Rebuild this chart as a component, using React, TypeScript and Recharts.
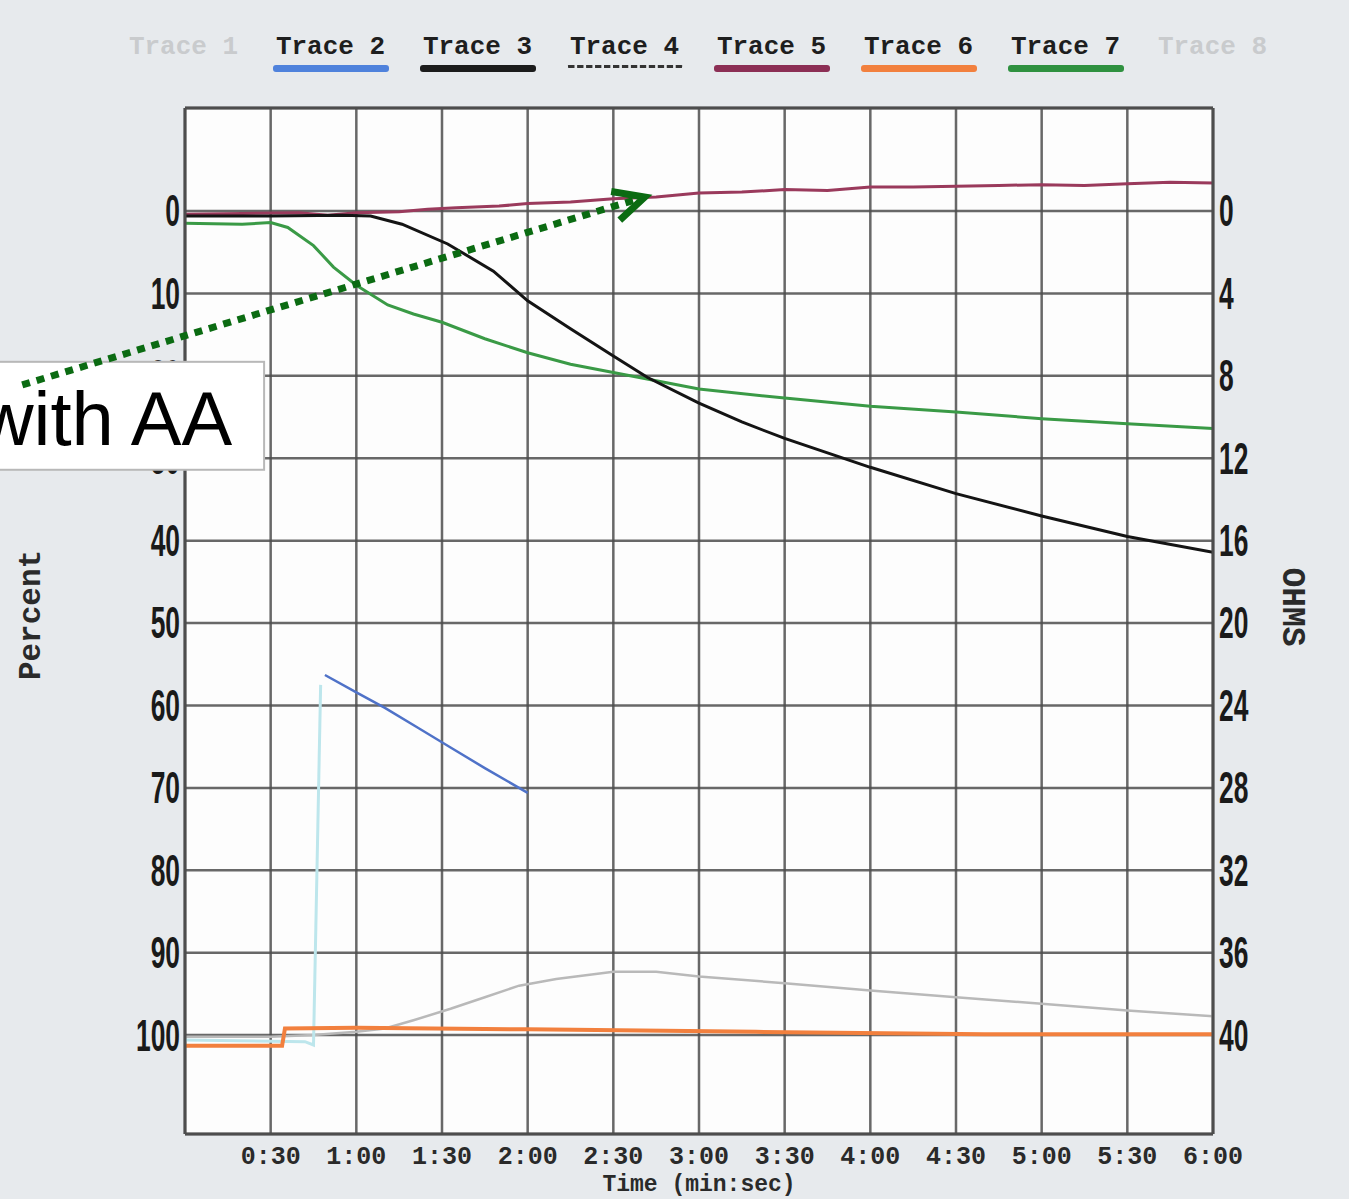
import { CartesianGrid, Line, LineChart, ReferenceArea, ReferenceLine, XAxis, YAxis } from "recharts";

// time axis (seconds) and its labels
const timeTicks = [30, 60, 90, 120, 150, 180, 210, 240, 270, 300, 330, 360];
const timeLabels = ["0:30", "1:00", "1:30", "2:00", "2:30", "3:00", "3:30", "4:00", "4:30", "5:00", "5:30", "6:00"];
const percentTicks = [0, 10, 20, 30, 40, 50, 60, 70, 80, 90, 100];
const ohmTicks = [0, 4, 8, 12, 16, 20, 24, 28, 32, 36, 40];

// Trace 1 (faded grey)
const trace1Time = [0, 30, 45, 60, 70, 80, 93, 105, 117, 130, 150, 165, 180, 210, 240, 270, 300, 330, 360];
const trace1Pct = [100.2, 100.2, 100, 99.6, 99.2, 98.2, 96.8, 95.4, 94.0, 93.2, 92.3, 92.3, 92.9, 93.7, 94.6, 95.4, 96.2, 97.0, 97.7];

// Trace 2 (blue)
const trace2Time = [49, 60, 70, 82, 93, 105, 120];
const trace2Pct = [56.3, 58.4, 60.3, 62.8, 65.1, 67.6, 70.6];

// Trace 3 (black)
const trace3Time = [0, 30, 55, 65, 76, 92, 108, 120, 135, 150, 162, 180, 195, 210, 240, 270, 300, 330, 360];
const trace3Pct = [0.6, 0.6, 0.5, 0.6, 1.6, 4.0, 7.3, 10.9, 14.3, 17.6, 20.2, 23.3, 25.6, 27.6, 31.1, 34.3, 37.0, 39.5, 41.4];

// Trace 5 (maroon) – read against the OHMS axis
const trace5Time = [0, 20, 40, 50, 60, 75, 85, 95, 110, 120, 135, 150, 165, 180, 195, 210, 225, 240, 255, 270, 285, 300, 315, 330, 345, 360];
const trace5Ohm = [0.16, 0.12, 0.08, 0.2, 0.08, 0.04, -0.08, -0.16, -0.24, -0.36, -0.44, -0.6, -0.68, -0.88, -0.92, -1.04, -1.0, -1.16, -1.16, -1.2, -1.24, -1.28, -1.24, -1.32, -1.4, -1.36];

// Trace 6 (orange)
const trace6Time = [0, 34, 35, 60, 120, 200, 280, 360];
const trace6Pct = [101.3, 101.3, 99.2, 99.1, 99.3, 99.6, 99.9, 99.9];

// Trace 7 (green)
const trace7Time = [0, 20, 30, 36, 45, 52, 60, 71, 80, 90, 105, 120, 135, 150, 165, 180, 210, 240, 270, 300, 330, 360];
const trace7Pct = [1.5, 1.6, 1.4, 2.0, 4.2, 6.8, 9.0, 11.4, 12.5, 13.5, 15.5, 17.2, 18.6, 19.6, 20.6, 21.6, 22.7, 23.7, 24.4, 25.2, 25.8, 26.4];

// Trace 8 (faded cyan)
const trace8Time = [0, 42, 45, 47.5];
const trace8Pct = [100.6, 100.8, 101.2, 57.5];

const legendNames = ["Trace 1", "Trace 2", "Trace 3", "Trace 4", "Trace 5", "Trace 6", "Trace 7", "Trace 8"];
const legendColors = ["#d4d6d8", "#4f82dc", "#1c1c1c", "#333333", "#8c2f55", "#f2803e", "#2f9140", "#d4d6d8"];
const legendFaded = [true, false, false, false, false, false, false, true];

// annotation, in chart units (seconds, percent)
const noteText = "with AA";
const noteBox = { t1: -70, t2: 27.7, p1: 18.3, p2: 31.4 };
const arrowFrom = { t: -57, p: 21.1 };
const arrowTo = { t: 161, p: -1.7 };

const zip = (ts: number[], vs: number[]) => ts.map((t, i) => ({ t, v: vs[i] }));

const monoFont = '"Liberation Mono", "DejaVu Sans Mono", monospace';

function PctTick({ x, y, payload }: any) {
  return (
    <text
      transform={`translate(${x},${y}) scale(0.6,1)`}
      textAnchor="end"
      dy="0.35em"
      fontFamily="Liberation Sans"
      fontWeight="bold"
      fontSize={44}
      fill="#1a1a1a"
    >
      {payload.value}
    </text>
  );
}

function OhmTick({ x, y, payload }: any) {
  return (
    <text
      transform={`translate(${x},${y}) scale(0.6,1)`}
      textAnchor="start"
      dy="0.35em"
      fontFamily="Liberation Sans"
      fontWeight="bold"
      fontSize={44}
      fill="#1a1a1a"
    >
      {payload.value}
    </text>
  );
}

function NoteShape(props: any) {
  const { x, y, width, height } = props;
  return (
    <g>
      <rect x={x} y={y} width={width} height={height} fill="#ffffff" stroke="#b8b8b8" strokeWidth={2} />
      <text
        x={x + width - 32}
        y={y + 83}
        textAnchor="end"
        fontFamily="Liberation Sans, Arial, sans-serif"
        fontSize={76}
        fill="#000"
      >
        {noteText}
      </text>
    </g>
  );
}

function ArrowShape(props: any) {
  const { x1, y1, x2, y2 } = props;
  const ang = Math.atan2(y2 - y1, x2 - x1);
  const len = 34;
  const spread = (26 * Math.PI) / 180;
  const a1 = ang + Math.PI - spread;
  const a2 = ang + Math.PI + spread;
  return (
    <g>
      <line x1={x1} y1={y1} x2={x2 - 6 * Math.cos(ang)} y2={y2 - 6 * Math.sin(ang)} stroke="#0b6b12" strokeWidth={7} strokeDasharray="8 7" />
      <polyline
        points={`${x2 + len * Math.cos(a1)},${y2 + len * Math.sin(a1)} ${x2},${y2} ${x2 + len * Math.cos(a2)},${y2 + len * Math.sin(a2)}`}
        fill="none"
        stroke="#0b6b12"
        strokeWidth={7}
        strokeLinejoin="miter"
      />
    </g>
  );
}

function Legend() {
  return (
    <>
      {legendNames.map((name, i) => (
        <div
          key={name}
          style={{ position: "absolute", left: 110 + i * 147, top: 32, width: 147, textAlign: "center" }}
        >
          <div
            style={{
              fontFamily: monoFont,
              fontWeight: "bold",
              fontSize: 26,
              lineHeight: "30px",
              color: legendFaded[i] ? "#c9cbcd" : "#1e1e1e",
            }}
          >
            {name}
          </div>
          {!legendFaded[i] && (
            <div
              style={{
                margin: "3px auto 0",
                width: 116,
                height: name === "Trace 4" ? 0 : 7,
                borderRadius: 3,
                background: name === "Trace 4" ? "transparent" : legendColors[i],
                borderTop: name === "Trace 4" ? "3px dashed #333" : "none",
              }}
            />
          )}
        </div>
      ))}
    </>
  );
}

export default function App() {
  const gridColor = "#4d4d4d";
  return (
    <div style={{ position: "absolute", left: 0, top: 0, width: 1349, height: 1199, background: "#e7eaed", overflow: "hidden" }}>
      <Legend />
      <LineChart width={1349} height={1199} margin={{ top: 108, right: 0, bottom: 0, left: 0 }}>
        <CartesianGrid
          yAxisId="pct"
          fill="#fdfdfd"
          stroke={gridColor}
          strokeWidth={2.5}
          strokeOpacity={0.85}
        />
        <XAxis
          dataKey="t"
          type="number"
          domain={[0, 360]}
          ticks={timeTicks}
          allowDataOverflow
          height={65}
          tickFormatter={(v) => timeLabels[timeTicks.indexOf(v)]}
          tick={{ fontFamily: monoFont, fontWeight: "bold", fontSize: 25, fill: "#2a2a2a" }}
          tickLine={false}
          tickSize={0}
          tickMargin={12}
          axisLine={{ stroke: gridColor, strokeWidth: 3 }}
          label={{
            value: "Time (min:sec)",
            position: "insideBottom",
            offset: 8,
            style: { fontFamily: monoFont, fontWeight: "bold", fontSize: 23, fill: "#2a2a2a" },
          }}
        />
        <YAxis
          yAxisId="pct"
          type="number"
          domain={[-12.5, 112]}
          reversed
          ticks={percentTicks}
          allowDataOverflow
          width={185}
          tick={<PctTick />}
          tickLine={false}
          tickSize={0}
          tickMargin={5}
          axisLine={{ stroke: gridColor, strokeWidth: 3 }}
          label={{
            content: ({ viewBox }: any) => (
              <text
                transform={`translate(${viewBox.x + 40},${viewBox.y + viewBox.height / 2 - 6}) rotate(-90)`}
                textAnchor="middle"
                fontFamily={monoFont}
                fontWeight="bold"
                fontSize={31}
                fill="#2a2a2a"
              >
                Percent
              </text>
            ),
          }}
        />
        <YAxis
          yAxisId="ohm"
          orientation="right"
          type="number"
          domain={[-5, 44.8]}
          reversed
          ticks={ohmTicks}
          allowDataOverflow
          width={136}
          tick={<OhmTick />}
          tickLine={false}
          tickSize={0}
          tickMargin={6}
          axisLine={{ stroke: gridColor, strokeWidth: 3 }}
          label={{
            content: ({ viewBox }: any) => (
              <text
                transform={`translate(${viewBox.x + 70},${viewBox.y + viewBox.height / 2 - 14}) rotate(90)`}
                textAnchor="middle"
                fontFamily={monoFont}
                fontWeight="bold"
                fontSize={33}
                fill="#2a2a2a"
              >
                OHMS
              </text>
            ),
          }}
        />
        <ReferenceLine yAxisId="pct" y={-12.5} stroke={gridColor} strokeWidth={3} />

        <Line yAxisId="pct" data={zip(trace1Time, trace1Pct)} dataKey="v" stroke="#b9b9b9" strokeWidth={2.5} dot={false} isAnimationActive={false} />
        <Line yAxisId="pct" data={zip(trace8Time, trace8Pct)} dataKey="v" stroke="#bde6ec" strokeWidth={3} dot={false} isAnimationActive={false} />
        <Line yAxisId="pct" data={zip(trace6Time, trace6Pct)} dataKey="v" stroke="#f2803e" strokeWidth={4} dot={false} isAnimationActive={false} />
        <Line yAxisId="pct" data={zip(trace2Time, trace2Pct)} dataKey="v" stroke="#4f72c8" strokeWidth={2.5} dot={false} isAnimationActive={false} />
        <Line yAxisId="pct" data={zip(trace7Time, trace7Pct)} dataKey="v" stroke="#3a9a46" strokeWidth={3} dot={false} isAnimationActive={false} />
        <Line yAxisId="ohm" data={zip(trace5Time, trace5Ohm)} dataKey="v" stroke="#9a3a5c" strokeWidth={3} dot={false} isAnimationActive={false} />
        <Line yAxisId="pct" data={zip(trace3Time, trace3Pct)} dataKey="v" stroke="#141414" strokeWidth={3} dot={false} isAnimationActive={false} />

        <ReferenceArea
          yAxisId="pct"
          x1={noteBox.t1}
          x2={noteBox.t2}
          y1={noteBox.p1}
          y2={noteBox.p2}
          ifOverflow="visible"
          shape={<NoteShape />}
          zIndex={2500}
        />
        <ReferenceLine
          yAxisId="pct"
          segment={[
            { x: arrowFrom.t, y: arrowFrom.p },
            { x: arrowTo.t, y: arrowTo.p },
          ]}
          ifOverflow="visible"
          shape={(p: any) => <ArrowShape {...p} />}
          zIndex={2600}
        />
      </LineChart>
    </div>
  );
}
